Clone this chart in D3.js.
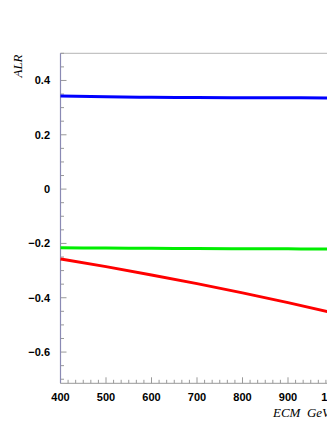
<!DOCTYPE html>
<html>
<head>
<meta charset="utf-8">
<script src="https://cdn.jsdelivr.net/npm/d3@7"></script>
<style>
  html, body { margin: 0; padding: 0; background: #fff; overflow: hidden; }
  svg { display: block; }
</style>
</head>
<body>
<div id="chart"></div>
<script>
// ALR vs ECM chart
const ecm = [400, 500, 600, 700, 800, 900, 1000]
const alrBlue = [0.343, 0.340, 0.338, 0.337, 0.336, 0.336, 0.335]
const alrGreen = [-0.216, -0.217, -0.218, -0.219, -0.220, -0.220, -0.221]
const alrRed = [-0.257, -0.2855, -0.316, -0.348, -0.382, -0.418, -0.456]
const xTickLabels = [400, 500, 600, 700, 800, 900, 1000]
const yTickLabels = [0.4, 0.2, 0, -0.2, -0.4, -0.6]

const W = 327, H = 423
const margin = { top: 53.3, left: 60.5, bottom: 383.3 }

const svg = d3.select("#chart").append("svg")
  .attr("width", W)
  .attr("height", H)

// scales
const x = d3.scaleLinear().domain([400, 1100]).range([margin.left, margin.left + 7 * 45.5])
const y = d3.scaleLinear().domain([-0.715, 0.5]).range([margin.bottom, margin.top])

// frame
svg.append("line")
  .attr("x1", margin.left).attr("x2", W + 20)
  .attr("y1", margin.top).attr("y2", margin.top)
  .attr("stroke", "#b4b4b4").attr("stroke-width", 1)

// minor ticks on y
const yMinor = d3.range(-14, 11).map(i => i * 0.05)
svg.append("g")
  .selectAll("line")
  .data(yMinor)
  .enter().append("line")
  .attr("x1", margin.left)
  .attr("x2", (d, i) => margin.left + (Math.abs(Math.round(d * 100)) % 20 === 0 ? 6 : 3.5))
  .attr("y1", d => y(d)).attr("y2", d => y(d))
  .attr("stroke", "#999").attr("stroke-width", 1)

// minor ticks on x
const xMinor = d3.range(0, 43).map(i => 400 + i * 100 / 6)
svg.append("g")
  .selectAll("line")
  .data(xMinor)
  .enter().append("line")
  .attr("x1", d => x(d)).attr("x2", d => x(d))
  .attr("y1", margin.bottom)
  .attr("y2", (d, i) => margin.bottom - (i % 6 === 0 ? 6 : 3.5))
  .attr("stroke", "#999").attr("stroke-width", 1)

// axes lines
svg.append("line")
  .attr("x1", margin.left).attr("x2", margin.left)
  .attr("y1", margin.top).attr("y2", margin.bottom)
  .attr("stroke", "#8a8ab4").attr("stroke-width", 1.2)
svg.append("line")
  .attr("x1", margin.left).attr("x2", W + 20)
  .attr("y1", margin.bottom).attr("y2", margin.bottom)
  .attr("stroke", "#999").attr("stroke-width", 1)

// tick labels
svg.append("g")
  .selectAll("text")
  .data(yTickLabels)
  .enter().append("text")
  .attr("x", 50)
  .attr("y", d => y(d) + 4)
  .attr("text-anchor", "end")
  .style("font-family", "'Liberation Sans', Arial, sans-serif")
  .style("font-weight", "bold")
  .style("font-size", "11px")
  .text(d => d === 0 ? "0" : d3.format(".1f")(d))

svg.append("g")
  .selectAll("text")
  .data(xTickLabels)
  .enter().append("text")
  .attr("x", d => x(d))
  .attr("y", 401)
  .attr("text-anchor", "middle")
  .style("font-family", "'Liberation Sans', Arial, sans-serif")
  .style("font-weight", "bold")
  .style("font-size", "11px")
  .text(d => d)

// axis titles
svg.append("text")
  .attr("transform", "translate(22,66) rotate(-90)")
  .attr("text-anchor", "middle")
  .style("font-family", "'Liberation Serif', 'Times New Roman', serif")
  .style("font-style", "italic")
  .style("font-size", "13px")
  .text("ALR")

svg.append("text")
  .attr("x", 273)
  .attr("y", 417)
  .style("font-family", "'Liberation Serif', 'Times New Roman', serif")
  .style("font-style", "italic")
  .style("font-size", "13px")
  .attr("xml:space", "preserve")
  .text("ECM  GeV")

// curves
const series = [
  { values: alrBlue, color: "#0000ff" },
  { values: alrGreen, color: "#00ee00" },
  { values: alrRed, color: "#ff0000" }
]

const line = d3.line()
  .x(d => x(d[0]))
  .y(d => y(d[1]))
  .curve(d3.curveMonotoneX)

series.forEach(s => {
  svg.append("path")
    .datum(ecm.map((e, i) => [e, s.values[i]]))
    .attr("fill", "none")
    .attr("stroke", s.color)
    .attr("stroke-width", 3)
    .attr("d", line)
})
</script>
</body>
</html>
